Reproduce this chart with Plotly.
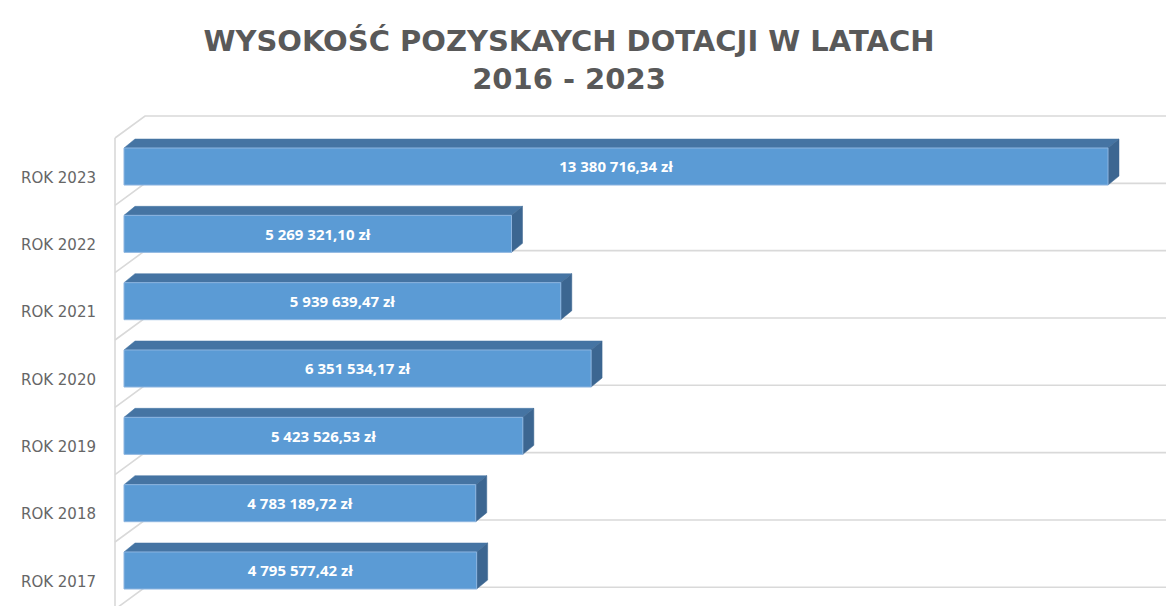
import plotly.graph_objects as go

# ---- data ----
years = ["ROK 2017", "ROK 2018", "ROK 2019", "ROK 2020", "ROK 2021", "ROK 2022", "ROK 2023"]
values = [4795577.42, 4783189.72, 5423526.53, 6351534.17, 5939639.47, 5269321.10, 13380716.34]
title_text = "WYSOKOŚĆ POZYSKAYCH DOTACJI W LATACH<br>2016 - 2023"

def fmt(v):
    s = f"{v:,.2f}"
    return s.replace(",", " ").replace(".", ",") + " zł"

labels = [fmt(v) for v in values]

# ---- geometry / style (pixel-based helpers) ----
W, H = 1166, 606
ML, MT = 105, 105
PX_PER_VAL = 984 / 13380716.34        # horizontal scale
X0_PX = 124                           # pixel of value 0
ROW_PX = 67.33                        # pixel spacing between categories
Y0_PX = 570.5                         # pixel of first category centre

def xv(px):
    return (px - X0_PX) / PX_PER_VAL

def yv(px):
    return (Y0_PX - px) / ROW_PX

xmin, xmax = xv(ML), xv(W)
ymin, ymax = yv(H), yv(MT)

BAR_H = 0.275                 # half-height of the bar front (category units)
DX = 11 / PX_PER_VAL          # bar depth (value units)
DY = 9 / ROW_PX               # bar depth (category units)
WALL_F = xv(115)
WALL_B = xv(145)
WALL_DY = 22 / ROW_PX

grid_col = "#d9d9d9"
front_col = "#5B9BD5"
top_col = "#4574A3"
side_col = "#3C6691"

fig = go.Figure()

# back wall gridlines + floor diagonals
n = len(values)
gx, gy = [], []
top_back = yv(116)
for k in range(n + 1):
    yb = top_back - k
    gx += [WALL_F, WALL_B, xmax, None]
    gy += [yb - WALL_DY, yb, yb, None]
gx += [WALL_F, WALL_F]
gy += [top_back - WALL_DY, ymin]
fig.add_trace(go.Scatter(x=gx, y=gy, mode="lines", line=dict(color=grid_col, width=1.6),
                         hoverinfo="skip", showlegend=False))

# 3D bars
for i, v in enumerate(values):
    # top face
    fig.add_trace(go.Scatter(
        x=[0, DX, v + DX, v, 0], y=[i + BAR_H, i + BAR_H + DY, i + BAR_H + DY, i + BAR_H, i + BAR_H],
        fill="toself", fillcolor=top_col, mode="lines", line=dict(color=top_col, width=0.5),
        hoverinfo="skip", showlegend=False))
    # side face
    fig.add_trace(go.Scatter(
        x=[v, v + DX, v + DX, v, v], y=[i - BAR_H, i - BAR_H + DY, i + BAR_H + DY, i + BAR_H, i - BAR_H],
        fill="toself", fillcolor=side_col, mode="lines", line=dict(color=side_col, width=0.5),
        hoverinfo="skip", showlegend=False))
    # front face
    fig.add_trace(go.Scatter(
        x=[0, v, v, 0, 0], y=[i - BAR_H, i - BAR_H, i + BAR_H, i + BAR_H, i - BAR_H],
        fill="toself", fillcolor=front_col, mode="lines", line=dict(color="#8db5e0", width=1),
        hoverinfo="skip", showlegend=False))

# data labels
fig.add_trace(go.Scatter(
    x=[v / 2 for v in values], y=[i - 0.03 for i in range(n)], mode="text", text=labels,
    textposition="middle center",
    textfont=dict(family="Open Sans", size=15, color="white", weight="bold"),
    hoverinfo="skip", showlegend=False))

fig.update_layout(
    width=W, height=H,
    margin=dict(l=ML, r=0, t=MT, b=0),
    paper_bgcolor="white", plot_bgcolor="white",
    hovermode=False,
    title=dict(text=title_text, x=569 / W, xanchor="center", xref="container",
               y=1 - 51 / H, yanchor="middle", yref="container",
               font=dict(family="DejaVu Sans", size=29, color="#595959", weight="bold")),
    xaxis=dict(range=[xmin, xmax], showgrid=False, zeroline=False, showticklabels=False,
               showline=False, fixedrange=True),
    yaxis=dict(range=[ymin, ymax], showgrid=False, zeroline=False, showline=False,
               tickmode="array", tickvals=[i - 0.16 for i in range(n)], ticktext=years,
               ticks="", ticklabelstandoff=8,
               tickfont=dict(family="DejaVu Sans", size=15, color="#666666"),
               fixedrange=True),
)

fig.write_html("out.html", config={"displayModeBar": False},
               post_script="document.body.style.margin='0px';")
